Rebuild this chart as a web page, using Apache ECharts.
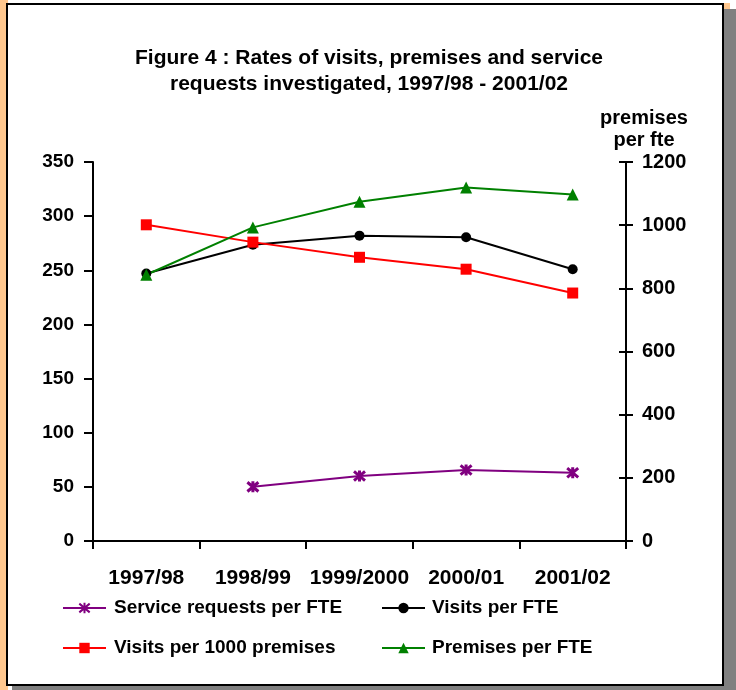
<!DOCTYPE html>
<html>
<head>
<meta charset="utf-8">
<script src="https://cdn.jsdelivr.net/npm/echarts@6/dist/echarts.min.js"></script>
<style>
html,body{margin:0;padding:0;width:736px;height:690px;overflow:hidden;background:#fff;}
#orange{position:absolute;left:0;top:0;width:8px;height:690px;background:#FFC78E;}
#orange2{position:absolute;left:720px;top:3px;width:10px;height:8px;background:#FFC78E;}
#shadow{position:absolute;left:12px;top:9px;width:724px;height:681px;background:#808080;}
#box{position:absolute;left:6px;top:3px;width:714px;height:679px;background:#fff;border:2px solid #000;}
#chart{position:absolute;left:0;top:0;width:736px;height:690px;}
</style>
</head>
<body>
<div id="orange"></div>
<div id="orange2"></div>
<div id="shadow"></div>
<div id="box"></div>
<div id="chart"></div>
<script>
var categories = ['1997/98', '1998/99', '1999/2000', '2000/01', '2001/02'];
var serviceRequestsPerFTE = [null, 50, 60, 65.5, 63];
var visitsPerFTE = [247, 273.5, 282, 280.5, 251];
var visitsPer1000Premises = [292, 276, 262, 251, 229];
var premisesPerFTE = [843, 993, 1074, 1119, 1097];
var leftTicks = [0, 350, 50];
var rightTicks = [0, 1200, 200];

var FONT = '"Liberation Sans", Arial, Helvetica, sans-serif';
var chart = echarts.init(document.getElementById('chart'), null, {renderer: 'canvas'});
var star = 'path://M0,-5L0,5M-4.6,-4.2L4.6,4.2M-4.6,4.2L4.6,-4.2';

var option = {
  backgroundColor: 'transparent',
  animation: false,
  textStyle: {fontFamily: FONT},
  title: {
    text: 'Figure 4 : Rates of visits, premises and service\nrequests investigated, 1997/98 - 2001/02',
    left: 364, top: 40, textAlign: 'center',
    textStyle: {fontFamily: FONT, fontSize: 21, fontWeight: 'bold', color: '#000', lineHeight: 26}
  },
  grid: {left: 93, right: 110, top: 162, bottom: 149, containLabel: false},
  legend: [{
    orient: 'vertical', left: 62, top: 597, padding: 0, itemGap: 18, itemWidth: 43, itemHeight: 13,
    data: ['Service requests per FTE', 'Visits per 1000 premises'],
    textStyle: {fontFamily: FONT, fontSize: 19, fontWeight: 'bold', color: '#000', padding: [0, 0, 0, 3], lineHeight: 22}
  }, {
    orient: 'vertical', left: 381, top: 597, padding: 0, itemGap: 18, itemWidth: 43, itemHeight: 13,
    data: ['Visits per FTE', 'Premises per FTE'],
    textStyle: {fontFamily: FONT, fontSize: 19, fontWeight: 'bold', color: '#000', padding: [0, 0, 0, 2], lineHeight: 22}
  }],
  xAxis: {
    type: 'category', data: categories, boundaryGap: true,
    axisLine: {lineStyle: {color: '#000', width: 2}},
    axisTick: {show: true, length: 8, lineStyle: {color: '#000', width: 2}},
    axisLabel: {margin: 27, fontFamily: FONT, fontSize: 21, fontWeight: 'bold', color: '#000', interval: 0},
    splitLine: {show: false}
  },
  yAxis: [{
    type: 'value', position: 'left', min: leftTicks[0], max: leftTicks[1], interval: leftTicks[2],
    axisLine: {show: true, lineStyle: {color: '#000', width: 2}},
    axisTick: {show: true, length: 9, lineStyle: {color: '#000', width: 2}},
    axisLabel: {margin: 19, fontFamily: FONT, fontSize: 19, fontWeight: 'bold', color: '#000'},
    splitLine: {show: false}
  }, {
    type: 'value', position: 'right', min: rightTicks[0], max: rightTicks[1], interval: rightTicks[2],
    name: 'premises\nper fte', nameLocation: 'end', nameGap: 11,
    nameTextStyle: {fontFamily: FONT, fontSize: 20, fontWeight: 'bold', color: '#000', lineHeight: 22, align: 'center', padding: [0, 0, 0, 36]},
    axisLine: {show: true, lineStyle: {color: '#000', width: 2}},
    axisTick: {show: true, length: 7, lineStyle: {color: '#000', width: 2}},
    axisLabel: {margin: 16, fontFamily: FONT, fontSize: 20, fontWeight: 'bold', color: '#000',
      formatter: function (v) { return String(v); }},
    splitLine: {show: false}
  }, {
    type: 'value', position: 'right', min: rightTicks[0], max: rightTicks[1], interval: rightTicks[2],
    axisLine: {show: false},
    axisTick: {show: true, inside: true, length: 7, lineStyle: {color: '#000', width: 2}},
    axisLabel: {show: false},
    splitLine: {show: false}
  }],
  series: [{
    name: 'Service requests per FTE', type: 'line', yAxisIndex: 0, data: serviceRequestsPerFTE,
    symbol: star, symbolSize: 11, connectNulls: false,
    lineStyle: {color: '#800080', width: 2},
    itemStyle: {color: '#800080', borderColor: '#800080', borderWidth: 3}
  }, {
    name: 'Visits per FTE', type: 'line', yAxisIndex: 0, data: visitsPerFTE,
    symbol: 'circle', symbolSize: 10,
    lineStyle: {color: '#000', width: 2},
    itemStyle: {color: '#000'}
  }, {
    name: 'Visits per 1000 premises', type: 'line', yAxisIndex: 0, data: visitsPer1000Premises,
    symbol: 'rect', symbolSize: 11,
    lineStyle: {color: '#FF0000', width: 2},
    itemStyle: {color: '#FF0000'}
  }, {
    name: 'Premises per FTE', type: 'line', yAxisIndex: 1, data: premisesPerFTE,
    symbol: 'triangle', symbolSize: 12,
    lineStyle: {color: '#008000', width: 2},
    itemStyle: {color: '#008000'}
  }]
};
chart.setOption(option);
</script>
</body>
</html>
